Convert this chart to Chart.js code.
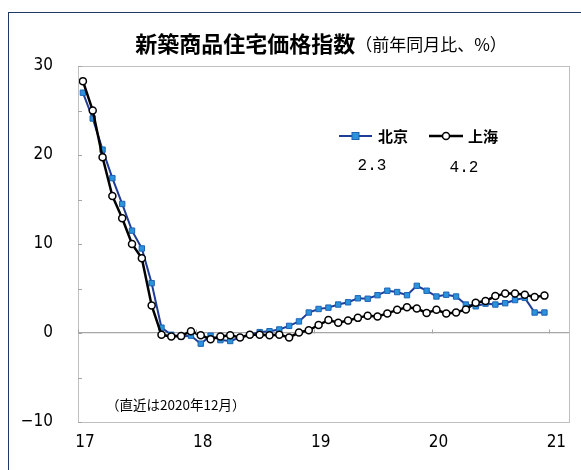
<!DOCTYPE html>
<html>
<head>
<meta charset="utf-8">
<script src="https://cdn.jsdelivr.net/npm/chart.js@4.4.1/dist/chart.umd.min.js"></script>
<style>
  html, body { margin: 0; padding: 0; background: #fff; }
  #wrap { position: relative; width: 581px; height: 470px; overflow: hidden; }
  #box { position: absolute; left: 8px; top: 12px; width: 620px; height: 520px;
         border-left: 1px solid #1f3864; border-top: 1px solid #1f3864; }
  canvas { position: absolute; left: 0; top: 0; }
</style>
</head>
<body>
<div id="wrap">
  <div id="box"></div>
  <canvas id="c" width="581" height="470"></canvas>
</div>
<script>
// Monthly periods, Jan 2017 – Dec 2020
const months = [
  '2017-01','2017-02','2017-03','2017-04','2017-05','2017-06','2017-07','2017-08','2017-09','2017-10','2017-11','2017-12',
  '2018-01','2018-02','2018-03','2018-04','2018-05','2018-06','2018-07','2018-08','2018-09','2018-10','2018-11','2018-12',
  '2019-01','2019-02','2019-03','2019-04','2019-05','2019-06','2019-07','2019-08','2019-09','2019-10','2019-11','2019-12',
  '2020-01','2020-02','2020-03','2020-04','2020-05','2020-06','2020-07','2020-08','2020-09','2020-10','2020-11','2020-12'
];

// New commercial housing price index, year-on-year change (%)
const beijing = [
  27.0, 24.1, 20.6, 17.4, 14.5, 11.5, 9.5, 5.6, 0.6, -0.2, -0.4, -0.3,
  -1.2, -0.3, -0.8, -0.9, -0.5, -0.2, 0.1, 0.2, 0.4, 0.8, 1.3, 2.3,
  2.7, 2.85, 3.2, 3.45, 3.9, 3.85, 4.25, 4.75, 4.6, 4.25, 5.3, 4.75,
  4.1, 4.3, 4.1, 3.2, 3.0, 3.3, 3.2, 3.35, 3.7, 3.95, 2.3, 2.3
];
const shanghai = [
  28.3, 25.0, 19.75, 15.4, 12.9, 10.0, 8.4, 3.1, -0.2, -0.4, -0.35, 0.2,
  -0.25, -0.7, -0.4, -0.25, -0.5, -0.2, -0.2, -0.25, -0.2, -0.5, 0.05, 0.3,
  0.9, 1.45, 1.15, 1.4, 1.7, 1.95, 1.85, 2.2, 2.6, 2.9, 2.75, 2.25,
  2.6, 2.2, 2.3, 2.65, 3.4, 3.6, 4.15, 4.45, 4.45, 4.3, 4.05, 4.2
];

// Year axis: label and the month index where each year begins
const yearLabels = ['17', '18', '19', '20', '21'];
const yearStarts = [0, 12, 24, 36, 48];

const seriesNames = ['北京', '上海'];
const titleMain = '新築商品住宅価格指数';
const titleSub = '（前年同月比、%）';
const noteText = '（直近は2020年12月）';

const NARROW = "'Liberation Sans Narrow','DejaVu Sans Condensed','Liberation Sans',sans-serif";
const CJK = "'Noto Sans CJK JP','Noto Sans',sans-serif";
const MONO = "'Liberation Mono','DejaVu Sans Mono',monospace";

const BJ_LINE = '#1f3c96';
const BJ_FILL = '#2a93dc';
const BJ_EDGE = '#1d63b5';

const toPoints = arr => arr.map((v, i) => ({ x: i, y: v }));

const decor = {
  id: 'decor',
  afterDraw(chart) {
    const { ctx, chartArea: a, scales } = chart;
    const xs = scales.x, ys = scales.y;
    ctx.save();

    // plot frame
    ctx.strokeStyle = '#bfbfbf';
    ctx.lineWidth = 1;
    ctx.strokeRect(Math.round(a.left) + 0.5, Math.round(a.top) + 0.5,
                   Math.round(a.right - a.left), Math.round(a.bottom - a.top));

    // inward tick marks on the value axis
    ctx.strokeStyle = '#a6a6a6';
    ctx.beginPath();
    ys.ticks.forEach(t => {
      const y = Math.round(ys.getPixelForValue(t.value)) + 0.5;
      ctx.moveTo(a.left, y);
      ctx.lineTo(a.left + 4, y);
    });
    // year boundary marks on the zero line
    const y0 = Math.round(ys.getPixelForValue(0)) + 0.5;
    yearStarts.forEach(m => {
      const x = Math.round(xs.getPixelForValue(m - 0.5)) + 0.5;
      ctx.moveTo(x, y0);
      ctx.lineTo(x, y0 - 4);
    });
    ctx.stroke();

    // title
    ctx.fillStyle = '#000';
    ctx.textBaseline = 'middle';
    ctx.textAlign = 'left';
    const fMain = 'bold 22px ' + CJK;
    const fSub = '17px ' + CJK;
    ctx.font = fMain;
    const w1 = ctx.measureText(titleMain).width;
    ctx.font = fSub;
    const w2 = ctx.measureText(titleSub).width;
    const tx = 321 - (w1 + w2) / 2;
    ctx.font = fMain;
    ctx.fillText(titleMain, tx, 44);
    ctx.font = fSub;
    ctx.fillText(titleSub, tx + w1, 45);

    // legend
    const ly = 136;
    ctx.lineWidth = 2;
    ctx.strokeStyle = BJ_LINE;
    ctx.beginPath(); ctx.moveTo(339, ly); ctx.lineTo(372, ly); ctx.stroke();
    ctx.fillStyle = BJ_FILL; ctx.strokeStyle = BJ_EDGE; ctx.lineWidth = 1;
    ctx.fillRect(352, ly - 3.5, 7, 7);
    ctx.strokeRect(352, ly - 3.5, 7, 7);

    ctx.lineWidth = 2.5;
    ctx.strokeStyle = '#000';
    ctx.beginPath(); ctx.moveTo(429, ly); ctx.lineTo(463, ly); ctx.stroke();
    ctx.fillStyle = '#fff'; ctx.lineWidth = 1.5;
    ctx.beginPath(); ctx.arc(446, ly, 3.5, 0, Math.PI * 2); ctx.fill(); ctx.stroke();

    ctx.fillStyle = '#000';
    ctx.font = 'bold 15px ' + CJK;
    ctx.fillText(seriesNames[0], 378, ly);
    ctx.fillText(seriesNames[1], 468, ly);

    // latest values
    ctx.font = '16px ' + MONO;
    ctx.textAlign = 'center';
    ctx.fillText(beijing[beijing.length - 1].toFixed(1), 372, 166);
    ctx.fillText(shanghai[shanghai.length - 1].toFixed(1), 464, 168);

    // note
    ctx.textAlign = 'left';
    ctx.font = '13.5px ' + CJK;
    ctx.fillText(noteText, 106, 405);

    ctx.restore();
  }
};

new Chart(document.getElementById('c'), {
  type: 'line',
  data: {
    datasets: [
      {
        label: seriesNames[1],
        data: toPoints(shanghai),
        borderColor: '#000',
        borderWidth: 2.5,
        pointStyle: 'circle',
        pointRadius: 3.5,
        pointBackgroundColor: '#fff',
        pointBorderColor: '#000',
        pointBorderWidth: 1.5,
        tension: 0,
        order: 1
      },
      {
        label: seriesNames[0],
        data: toPoints(beijing),
        borderColor: BJ_LINE,
        borderWidth: 2,
        pointStyle: 'rect',
        pointRadius: 3.8,
        pointBackgroundColor: BJ_FILL,
        pointBorderColor: BJ_EDGE,
        pointBorderWidth: 1,
        tension: 0,
        order: 2
      }
    ]
  },
  options: {
    responsive: false,
    animation: false,
    devicePixelRatio: 1,
    layout: { padding: { top: 66, right: 12, left: 0, bottom: 0 } },
    plugins: { legend: { display: false }, tooltip: { enabled: false } },
    scales: {
      x: {
        type: 'linear',
        min: -0.5,
        max: 49.5,
        grid: { display: false, drawTicks: false },
        border: { display: false },
        afterBuildTicks: s => { s.ticks = yearStarts.map(m => ({ value: m - 0.5 })); },
        afterFit: s => { s.height = 48; },
        ticks: {
          autoSkip: false,
          maxRotation: 0,
          labelOffset: 7,
          padding: 10,
          color: '#000',
          font: { family: NARROW, size: 17 },
          callback: (v, i) => yearLabels[i]
        }
      },
      y: {
        min: -10,
        max: 30,
        grid: {
          drawTicks: false,
          lineWidth: 1.2,
          color: c => (c.tick && c.tick.value === 0) ? '#a6a6a6' : 'rgba(0,0,0,0)'
        },
        border: { display: false },
        afterFit: s => { s.width = 78; },
        ticks: {
          stepSize: 5,
          padding: 25,
          color: '#000',
          font: { family: NARROW, size: 17 },
          callback: v => (v % 10 === 0) ? (v < 0 ? '\u2212' + (-v) : String(v)) : ''
        }
      }
    }
  },
  plugins: [decor]
});
</script>
</body>
</html>
